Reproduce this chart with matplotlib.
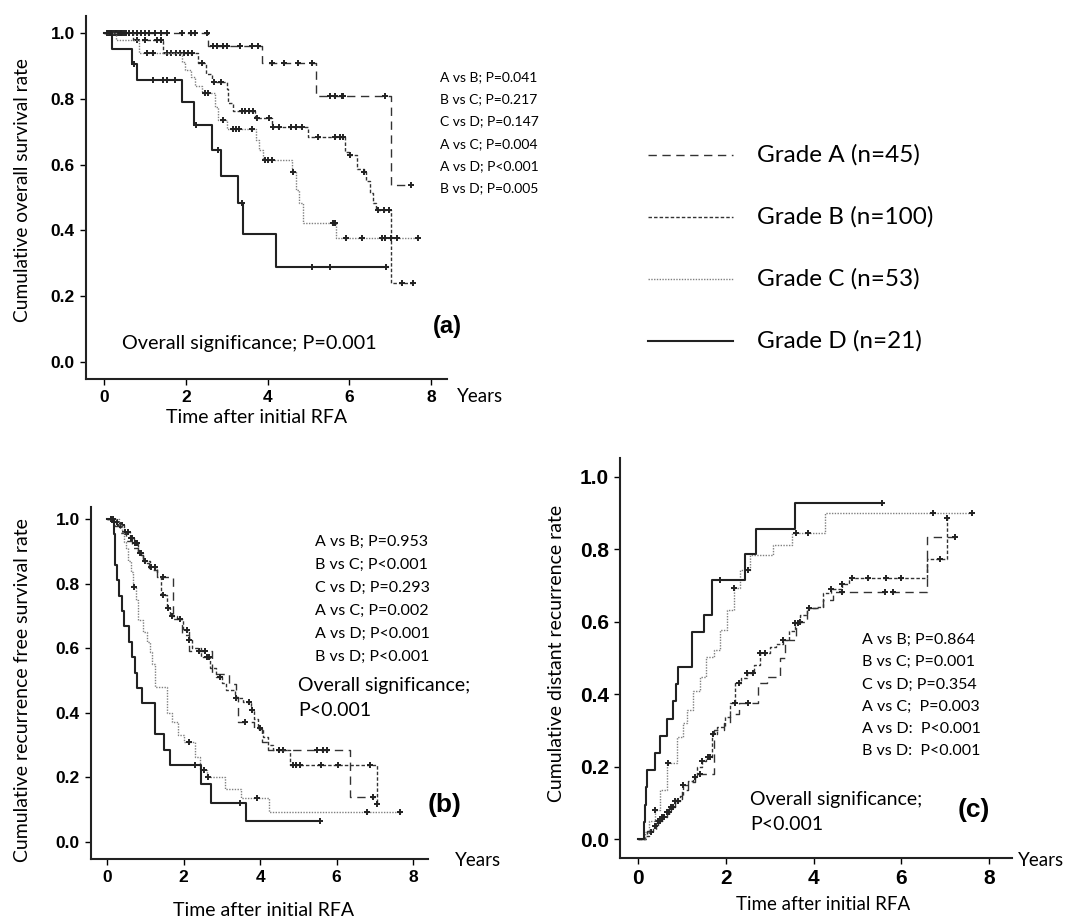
import numpy as np
import matplotlib
matplotlib.use("Agg")
import matplotlib.pyplot as plt
from matplotlib.lines import Line2D

# ---- data ----
grades = ["Grade A (n=45)", "Grade B (n=100)", "Grade C (n=53)", "Grade D (n=21)"]

# (a) overall survival
a_A_t = [0, 2.55, 3.86, 5.18, 7.01]
a_A_s = [1.0, 0.96, 0.908, 0.808, 0.538]
a_A_cens = [0.07, 0.12, 0.18, 0.25, 0.3, 0.35, 0.42, 0.5, 0.6, 0.7, 0.8, 0.9, 1.0, 1.1, 1.25,
            1.4, 1.55, 1.91, 2.14, 2.22, 2.53, 2.67, 2.76, 2.92, 3.0, 3.33, 3.61, 3.77,
            4.1, 4.4, 4.75, 5.08, 5.53, 5.65, 5.81, 5.85, 6.87, 7.52]
a_B_t = [0, 0.7, 1.45, 2.3, 2.5, 2.65, 3.0, 3.04, 3.16, 3.7, 4.1, 5.0, 5.89, 6.0, 6.2,
         6.35, 6.42, 6.5, 6.58, 6.65, 7.03]
a_B_s = [1.0, 0.98, 0.938, 0.908, 0.877, 0.852, 0.83, 0.786, 0.764, 0.741, 0.713, 0.683,
         0.639, 0.629, 0.588, 0.578, 0.55, 0.513, 0.482, 0.462, 0.239]
a_B_cens = [0.1, 0.2, 0.3, 0.38, 0.45, 0.55, 0.62, 0.8, 1.0, 1.3, 1.4, 1.55, 1.65, 1.75,
            1.85, 1.95, 2.05, 2.15, 2.4, 2.7, 2.85, 3.37, 3.45, 3.55, 3.65, 3.75, 4.04,
            4.13, 4.29, 4.57, 4.69, 4.85, 5.24, 5.65, 5.78, 5.85, 6.01, 6.36, 6.7, 6.85,
            6.97, 7.28, 7.56]
a_C_t = [0, 0.3, 0.85, 1.9, 1.98, 2.14, 2.22, 2.39, 2.71, 2.8, 3.0, 3.73, 3.78, 3.9, 4.6,
         4.7, 4.78, 4.86, 5.68]
a_C_s = [1.0, 0.98, 0.94, 0.913, 0.888, 0.867, 0.84, 0.818, 0.776, 0.736, 0.707, 0.675,
         0.645, 0.614, 0.578, 0.523, 0.482, 0.421, 0.376]
a_C_cens = [0.15, 1.05, 1.2, 2.47, 2.55, 2.92, 3.15, 3.22, 3.3, 3.61, 3.95, 4.02, 4.1,
            4.63, 5.6, 5.65, 5.93, 6.3, 6.79, 6.87, 7.03, 7.16, 7.69]
a_D_t = [0, 0.2, 0.69, 0.8, 1.9, 2.21, 2.65, 2.85, 3.28, 3.39, 4.2]
a_D_s = [1.0, 0.952, 0.905, 0.857, 0.791, 0.722, 0.643, 0.565, 0.482, 0.388, 0.290]
a_D_cens = [0.73, 1.21, 1.45, 1.53, 1.74, 2.26, 2.79, 3.37, 5.08, 5.53, 6.91]
a_end = [7.52, 7.56, 7.69, 6.95]

# (b) recurrence free survival
b_A_t = [0, 0.2, 0.35, 0.5, 0.65, 0.8, 0.95, 1.1, 1.3, 1.73, 1.95, 2.15, 2.74, 3.2, 3.38,
         3.42, 3.85, 4.05, 4.2, 6.35]
b_A_s = [1.0, 0.978, 0.956, 0.933, 0.91, 0.888, 0.865, 0.843, 0.82, 0.69, 0.64, 0.59,
         0.52, 0.49, 0.45, 0.37, 0.35, 0.31, 0.285, 0.14]
b_A_cens = [0.1, 1.45, 2.4, 2.55, 3.6, 4.5, 4.6, 5.5, 5.65, 5.75, 6.95]
b_B_t = [0, 0.15, 0.3, 0.45, 0.6, 0.7, 0.8, 0.95, 1.12, 1.3, 1.4, 1.56, 1.65, 1.83, 1.98,
         2.13, 2.21, 2.45, 2.7, 2.85, 3.0, 3.12, 3.35, 3.55, 3.75, 3.85, 3.95, 4.08, 4.2,
         4.35, 4.78, 7.05]
b_B_s = [1.0, 0.99, 0.98, 0.96, 0.94, 0.925, 0.895, 0.87, 0.852, 0.82, 0.765, 0.724, 0.70,
         0.69, 0.656, 0.625, 0.60, 0.574, 0.538, 0.51, 0.491, 0.47, 0.445, 0.434, 0.409,
         0.38, 0.352, 0.326, 0.30, 0.285, 0.238, 0.118]
b_B_cens = [0.1, 0.18, 0.25, 0.33, 0.4, 0.48, 0.55, 0.62, 0.66, 0.72, 0.75, 0.78, 0.85,
            0.9, 1.0, 1.15, 1.25, 1.45, 1.6, 1.7, 1.9, 2.1, 2.15, 2.6, 2.67, 2.95, 3.37,
            3.7, 3.8, 4.0, 4.5, 4.85, 4.95, 5.05, 5.6, 6.05, 6.88, 7.05]
b_C_t = [0, 0.3, 0.38, 0.45, 0.5, 0.56, 0.62, 0.69, 0.76, 0.82, 0.95, 1.05, 1.12, 1.18,
         1.25, 1.56, 1.7, 1.86, 2.0, 2.3, 2.43, 2.6, 3.08, 3.49, 4.24]
b_C_s = [1.0, 0.98, 0.96, 0.93, 0.909, 0.87, 0.837, 0.79, 0.75, 0.687, 0.651, 0.62, 0.589,
         0.55, 0.481, 0.398, 0.37, 0.331, 0.31, 0.264, 0.223, 0.2, 0.163, 0.135, 0.092]
b_C_cens = [0.71, 2.15, 2.54, 2.63, 3.93, 6.8, 7.66]
b_D_t = [0, 0.17, 0.2, 0.22, 0.25, 0.3, 0.38, 0.45, 0.58, 0.66, 0.72, 0.77, 0.92, 1.25,
         1.5, 1.65, 2.45, 2.72, 3.63]
b_D_s = [1.0, 0.952, 0.905, 0.857, 0.81, 0.762, 0.714, 0.667, 0.619, 0.571, 0.524, 0.476,
         0.429, 0.333, 0.286, 0.238, 0.18, 0.12, 0.064]
b_D_cens = [0.15, 2.31, 3.48, 5.57]
b_end = [7.0, 7.05, 7.7, 5.57]

# (c) distant recurrence
c_A_t = [0, 0.2, 0.4, 0.55, 0.7, 0.85, 1.0, 1.15, 1.3, 1.72, 1.95, 2.1, 2.3, 2.74, 2.93,
         3.23, 3.35, 3.61, 3.84, 4.22, 4.45, 6.58]
c_A_s = [0, 0.022, 0.044, 0.067, 0.09, 0.112, 0.135, 0.158, 0.18, 0.30, 0.32, 0.345,
         0.375, 0.43, 0.448, 0.50, 0.55, 0.60, 0.637, 0.66, 0.683, 0.835]
c_A_cens = [1.41, 2.51, 3.7, 4.64, 5.63, 5.82, 7.22]
c_B_t = [0, 0.15, 0.25, 0.35, 0.45, 0.55, 0.65, 0.75, 0.85, 0.95, 1.03, 1.15, 1.26, 1.34,
         1.45, 1.56, 1.68, 1.8, 1.98, 2.09, 2.21, 2.35, 2.48, 2.65, 2.78, 3.0, 3.15, 3.31,
         3.45, 3.58, 3.7, 3.84, 4.07, 4.22, 4.4, 4.64, 4.8, 6.58, 7.05]
c_B_s = [0, 0.01, 0.02, 0.035, 0.05, 0.06, 0.075, 0.09, 0.105, 0.12, 0.149, 0.16, 0.172,
         0.2, 0.215, 0.227, 0.29, 0.31, 0.338, 0.375, 0.43, 0.445, 0.458, 0.48, 0.513,
         0.53, 0.54, 0.55, 0.575, 0.596, 0.62, 0.637, 0.642, 0.679, 0.69, 0.705, 0.72,
         0.772, 0.886]
c_B_cens = [0.3, 0.38, 0.45, 0.5, 0.55, 0.6, 0.65, 0.7, 0.75, 0.8, 0.85, 0.9, 1.03, 1.3,
            1.45, 1.6, 1.65, 1.7, 2.2, 2.3, 2.48, 2.63, 2.78, 2.9, 3.31, 3.58, 3.65, 3.9,
            4.4, 4.64, 4.87, 5.25, 5.66, 6.0, 6.88, 7.05]
c_C_t = [0, 0.15, 0.25, 0.39, 0.5, 0.65, 0.88, 1.03, 1.11, 1.26, 1.41, 1.56, 1.72, 1.87,
         2.02, 2.19, 2.32, 2.55, 3.08, 3.5, 4.26]
c_C_s = [0, 0.02, 0.05, 0.08, 0.135, 0.21, 0.283, 0.32, 0.356, 0.41, 0.448, 0.504, 0.522,
         0.577, 0.632, 0.692, 0.743, 0.785, 0.812, 0.845, 0.9]
c_C_cens = [0.39, 0.68, 2.19, 2.51, 3.6, 3.88, 6.73, 7.6]
c_D_t = [0, 0.14, 0.16, 0.18, 0.2, 0.39, 0.49, 0.65, 0.79, 0.87, 0.91, 1.22, 1.5, 1.68,
         2.44, 2.69, 3.58]
c_D_s = [0, 0.048, 0.095, 0.143, 0.19, 0.238, 0.286, 0.333, 0.381, 0.429, 0.476, 0.571,
         0.619, 0.714, 0.786, 0.857, 0.929]
c_D_cens = [1.87, 5.55]
c_end = [7.27, 7.1, 7.6, 5.55]

a_pvals = ["A vs B; P=0.041", "B vs C; P=0.217", "C vs D; P=0.147",
           "A vs C; P=0.004", "A vs D; P<0.001", "B vs D; P=0.005"]
b_pvals = ["A vs B; P=0.953", "B vs C; P<0.001", "C vs D; P=0.293",
           "A vs C; P=0.002", "A vs D; P<0.001", "B vs D; P<0.001"]
c_pvals = ["A vs B; P=0.864", "B vs C; P=0.001", "C vs D; P=0.354",
           "A vs C;  P=0.003", "A vs D:  P<0.001", "B vs D:  P<0.001"]

# ---- styles ----
styles = [
    dict(color="#333333", lw=1.0, ls=(0, (6, 4))),
    dict(color="#333333", lw=1.0, ls=(0, (2.5, 1.5))),
    dict(color="#808080", lw=1.0, ls=(0, (1, 1))),
    dict(color="#222222", lw=1.5, ls="-"),
]
TXT = "Lato"
TICK = "Liberation Sans"
W, H = 1077, 919


def fx(px):
    return px / W


def fy(py):
    return 1 - py / H


def draw_km(ax, t, s, end, cens, st):
    t = np.asarray(t, float)
    s = np.asarray(s, float)
    xs = np.append(t, end)
    ys = np.append(s, s[-1])
    ax.step(xs, ys, where="post", **st)
    c = np.asarray(cens, float)
    idx = np.searchsorted(t, c, side="right") - 1
    ax.plot(c, s[idx], ls="none", marker="+", ms=5, mew=1.4, color="#222222")


def setup(ax, xlim, ylim, tsize):
    ax.set_xlim(*xlim)
    ax.set_ylim(*ylim)
    for sp in ["top", "right"]:
        ax.spines[sp].set_visible(False)
    for sp in ["left", "bottom"]:
        ax.spines[sp].set_linewidth(1.5)
        ax.spines[sp].set_color("#222222")
    ax.set_xticks([0, 2, 4, 6, 8])
    ax.set_yticks([0, 0.2, 0.4, 0.6, 0.8, 1.0])
    ax.set_yticklabels(["0.0", "0.2", "0.4", "0.6", "0.8", "1.0"])
    ax.tick_params(direction="out", length=4, width=1, pad=4)
    for lab in ax.get_xticklabels() + ax.get_yticklabels():
        lab.set_family(TICK)
        lab.set_weight("bold")
        lab.set_fontsize(tsize)


fig = plt.figure(figsize=(W / 100, H / 100), dpi=100)

# panel (a)
ax_a = fig.add_axes([fx(86), fy(379), fx(447) - fx(86), fy(16) - fy(379)])
setup(ax_a, (-0.44, 8.39), (-0.052, 1.052), 12.5)
for t, s, e, cs, st in zip([a_A_t, a_B_t, a_C_t, a_D_t], [a_A_s, a_B_s, a_C_s, a_D_s], a_end,
                           [a_A_cens, a_B_cens, a_C_cens, a_D_cens], styles):
    draw_km(ax_a, t, s, e, cs, st)

# panel (b)
ax_b = fig.add_axes([fx(91), fy(859), fx(428) - fx(91), fy(507) - fy(859)])
setup(ax_b, (-0.42, 8.39), (-0.053, 1.037), 12.5)
for t, s, e, cs, st in zip([b_A_t, b_B_t, b_C_t, b_D_t], [b_A_s, b_B_s, b_C_s, b_D_s], b_end,
                           [b_A_cens, b_B_cens, b_C_cens, b_D_cens], styles):
    draw_km(ax_b, t, s, e, cs, st)

# panel (c)
ax_c = fig.add_axes([fx(620), fy(858), fx(1012) - fx(620), fy(458) - fy(858)])
setup(ax_c, (-0.41, 8.52), (-0.052, 1.052), 15)
for t, s, e, cs, st in zip([c_A_t, c_B_t, c_C_t, c_D_t], [c_A_s, c_B_s, c_C_s, c_D_s], c_end,
                           [c_A_cens, c_B_cens, c_C_cens, c_D_cens], styles):
    draw_km(ax_c, t, s, e, cs, st)

# axis labels
fig.text(fx(23), fy(190), "Cumulative overall survival rate", rotation=90, family=TXT,
         fontsize=13.8, ha="center", va="center")
fig.text(fx(257), fy(418), "Time after initial RFA", family=TXT, fontsize=14,
         ha="center", va="center")
fig.text(fx(480), fy(397), "Years", family=TXT, fontsize=13.5, ha="center", va="center")

fig.text(fx(23), fy(690), "Cumulative recurrence free survival rate", rotation=90,
         family=TXT, fontsize=14, ha="center", va="center")
fig.text(fx(264), fy(910), "Time after initial RFA", family=TXT, fontsize=14,
         ha="center", va="center")
fig.text(fx(478), fy(860), "Years", family=TXT, fontsize=13.5, ha="center", va="center")

fig.text(fx(557), fy(653), "Cumulative distant recurrence rate", rotation=90, family=TXT,
         fontsize=14, ha="center", va="center")
fig.text(fx(823), fy(905), "Time after initial RFA", family=TXT, fontsize=13.5,
         ha="center", va="center")
fig.text(fx(1018), fy(860), "Years", family=TXT, fontsize=13.5, ha="left", va="center")

# p-values and notes
for i, p in enumerate(a_pvals):
    fig.text(fx(440), fy(77 + 22.3 * i), p, family=TXT, fontsize=10, va="center")
fig.text(fx(122), fy(343), "Overall significance; P=0.001", family=TXT, fontsize=14.3,
         va="center")
fig.text(fx(433), fy(327), "(a)", family=TICK, weight="bold", fontsize=17, va="center")

for i, p in enumerate(b_pvals):
    fig.text(fx(315), fy(542 + 23 * i), p, family=TXT, fontsize=11.5, va="center")
fig.text(fx(298), fy(685), "Overall significance;", family=TXT, fontsize=14, va="center")
fig.text(fx(298), fy(711), "P<0.001", family=TXT, fontsize=14, va="center")
fig.text(fx(428), fy(805), "(b)", family=TICK, weight="bold", fontsize=19, va="center")

for i, p in enumerate(c_pvals):
    fig.text(fx(862), fy(640 + 22.2 * i), p, family=TXT, fontsize=11.5, va="center")
fig.text(fx(750), fy(800), "Overall significance;", family=TXT, fontsize=14, va="center")
fig.text(fx(750), fy(824), "P<0.001", family=TXT, fontsize=14, va="center")
fig.text(fx(958), fy(810), "(c)", family=TICK, weight="bold", fontsize=19, va="center")

# legend
for i, (g, st) in enumerate(zip(grades, styles)):
    yy = fy(155 + 62 * i)
    fig.add_artist(Line2D([fx(648), fx(733)], [yy, yy], transform=fig.transFigure, **st))
    fig.text(fx(757), yy, g, family=TXT, fontsize=17.5, va="center")

fig.savefig("out.png", dpi=100)
